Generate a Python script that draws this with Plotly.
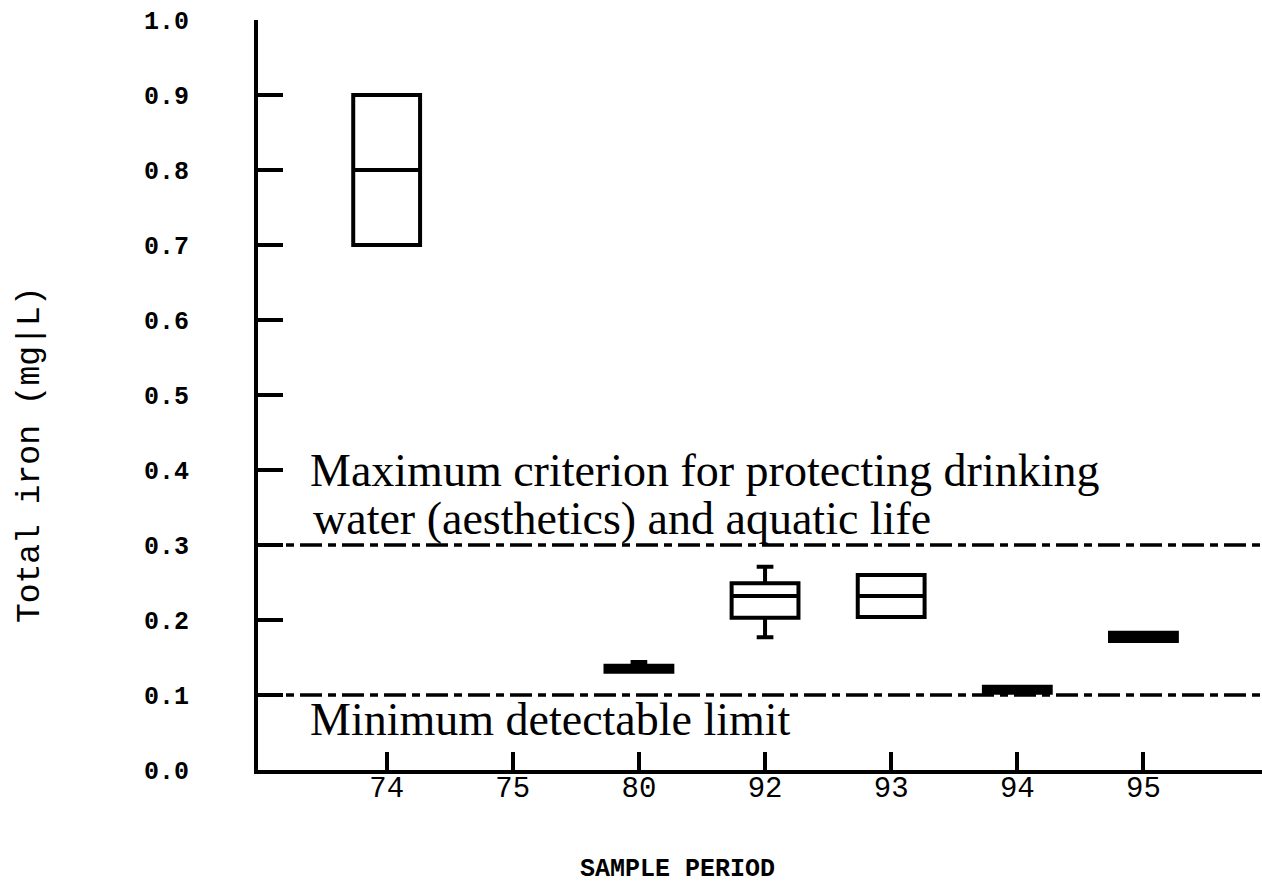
import plotly.graph_objects as go

# ---- data ----
categories = ["74", "75", "80", "92", "93", "94", "95"]
box_cats = ["74", "80", "92", "93", "94", "95"]
q1 = [0.70, 0.131, 0.203, 0.204, 0.103, 0.172]
median = [0.80, 0.135, 0.232, 0.232, 0.107, 0.177]
q3 = [0.90, 0.139, 0.249, 0.260, 0.111, 0.183]
lowerfence = [0.70, 0.131, 0.177, 0.204, 0.103, 0.172]
upperfence = [0.90, 0.144, 0.271, 0.260, 0.111, 0.183]
filled = [False, True, False, False, True, True]
criterion_max = 0.3
detect_limit = 0.1
y_ticks = [0.0, 0.1, 0.2, 0.3, 0.4, 0.5, 0.6, 0.7, 0.8, 0.9, 1.0]

pos = {c: i for i, c in enumerate(categories)}

fig = go.Figure()
for i, c in enumerate(box_cats):
    fig.add_trace(go.Box(
        x=[pos[c]], q1=[q1[i]], median=[median[i]], q3=[q3[i]],
        lowerfence=[lowerfence[i]], upperfence=[upperfence[i]],
        width=0.53, whiskerwidth=0.25,
        line=dict(color="black", width=4),
        fillcolor="black" if filled[i] else "white",
        boxpoints=False, showlegend=False, hoverinfo="skip",
    ))

for yv in [criterion_max, detect_limit]:
    fig.add_shape(type="line", xref="paper", x0=0, x1=1, yref="y", y0=yv, y1=yv,
                  line=dict(color="black", width=3.5, dash="22px,6px,8px,6px"), layer="below")

serif = "Liberation Serif"
fsz = 46
fig.add_annotation(xref="paper", yref="y", x=0.05, y=0.4, xanchor="left", yanchor="middle",
                   text="Maximum criterion for protecting drinking", showarrow=False,
                   font=dict(family=serif, size=fsz, color="black"))
fig.add_annotation(xref="paper", yref="y", x=0.053, y=0.336, xanchor="left", yanchor="middle",
                   text="water (aesthetics) and aquatic life", showarrow=False,
                   font=dict(family=serif, size=fsz, color="black"))
fig.add_annotation(xref="paper", yref="y", x=0.05, y=0.0667, xanchor="left", yanchor="middle",
                   text="Minimum detectable limit", showarrow=False,
                   font=dict(family=serif, size=fsz, color="black"))

fig.add_annotation(xref="paper", yref="paper", x=-0.227, y=0.42, xanchor="center", yanchor="middle",
                   text="Total iron (mg|L)", textangle=-90, showarrow=False,
                   font=dict(family="Liberation Mono", size=33, color="black"))
fig.add_annotation(xref="paper", yref="paper", x=0.418, y=-0.133, xanchor="center", yanchor="middle",
                   text="<b>SAMPLE PERIOD</b>", showarrow=False,
                   font=dict(family="Liberation Mono", size=25, color="black"))

fig.update_layout(
    width=1262, height=886,
    margin=dict(l=258, r=0, t=20, b=116),
    plot_bgcolor="white", paper_bgcolor="white",
    hovermode=False, showlegend=False,
    boxmode="overlay",
)
fig.update_xaxes(
    range=[-1.02, 6.94], tickvals=list(range(len(categories))), ticktext=categories,
    showgrid=False, zeroline=False, showline=True, linecolor="black", linewidth=4,
    ticks="inside", ticklen=18, tickwidth=4, tickcolor="black",
    tickfont=dict(family="Liberation Mono", size=29, color="black"),
    ticklabelstandoff=-12,
)
fig.update_yaxes(
    range=[0, 1.0], tickvals=y_ticks, ticktext=[f"<b>{v:.1f}</b>" for v in y_ticks],
    showgrid=False, zeroline=False, showline=True, linecolor="black", linewidth=4,
    ticks="inside", ticklen=25, tickwidth=4, tickcolor="black",
    tickfont=dict(family="Liberation Mono", size=25, color="black"),
    ticklabelstandoff=60,
)

fig.write_html("out.html")
